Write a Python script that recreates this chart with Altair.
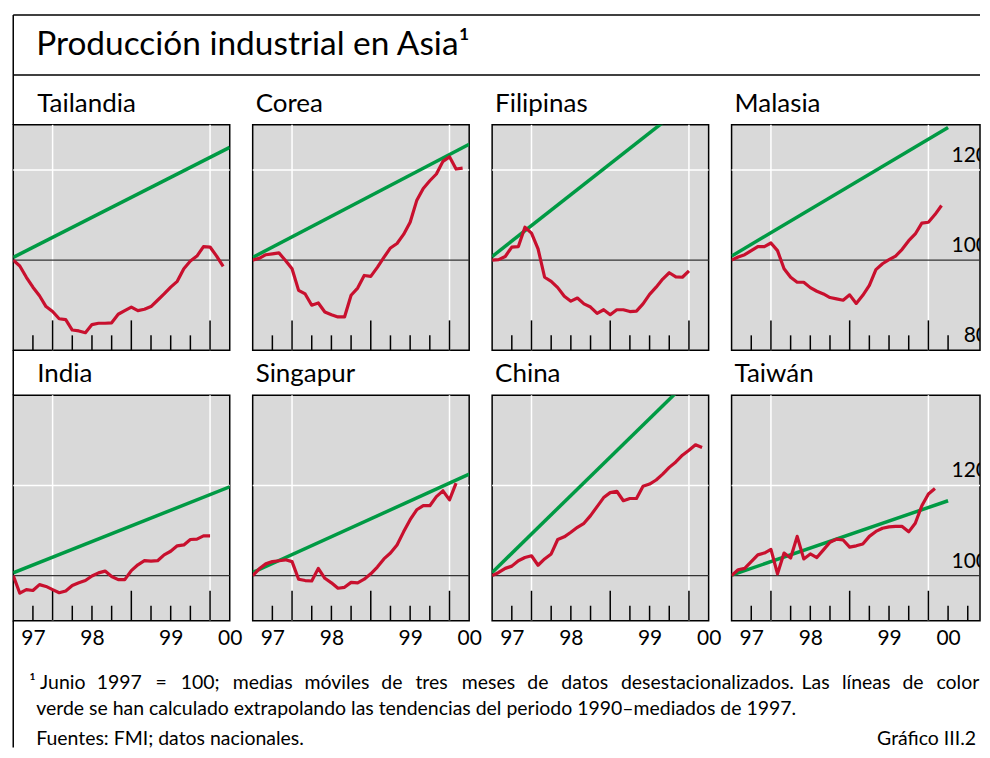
import altair as alt
import pandas as pd

FONT = "Lato"
TITLE = "Producción industrial en Asia¹"
FOOT1_WORDS = ["¹ Junio", "1997", "=", "100;", "medias", "móviles", "de", "tres", "meses", "de", "datos",
               "desestacionalizados.", "Las", "líneas", "de", "color"]
FOOT2 = "verde se han calculado extrapolando las tendencias del periodo 1990–mediados de 1997."
SOURCE = "Fuentes: FMI; datos nacionales."
CHART_ID = "Gráfico III.2"

names = ["Tailandia", "Corea", "Filipinas", "Malasia", "India", "Singapur", "China", "Taiwán"]

# monthly values, first point = June 1997 (=100)
tailandia = [100.0, 98.7, 96.2, 94.0, 92.1, 89.7, 88.6, 87.0, 86.8, 84.5, 84.3, 83.9, 85.7, 86.0, 86.0, 86.1,
             88.0, 88.8, 89.6, 88.8, 89.1, 89.7, 91.1, 92.5, 94.0, 95.3, 98.1, 99.8, 100.9, 103.0, 102.9, 100.9, 98.6]
corea = [100.0, 100.4, 101.2, 101.4, 101.6, 99.9, 98.1, 93.3, 92.5, 90.0, 90.5, 88.5, 87.9, 87.4, 87.4, 92.2,
         93.8, 96.6, 96.4, 98.4, 100.6, 102.7, 103.7, 105.7, 108.4, 113.2, 115.9, 117.6, 119.1, 121.9, 122.9, 120.2, 120.4]
filipinas = [100.0, 100.1, 100.8, 102.9, 103.0, 107.3, 106.0, 102.5, 96.2, 95.3, 93.9, 92.0, 90.9, 91.6, 90.3, 89.6,
             88.2, 89.0, 87.9, 89.0, 89.0, 88.6, 88.7, 90.3, 92.4, 94.0, 95.8, 97.2, 96.3, 96.2, 97.6]
malasia = [100.0, 100.7, 101.2, 102.1, 103.0, 103.0, 103.8, 102.1, 98.1, 96.2, 95.1, 95.1, 93.9, 93.1, 92.5, 91.7,
           91.4, 91.1, 92.3, 90.4, 92.2, 94.4, 97.9, 99.2, 100.1, 100.9, 102.4, 104.3, 105.8, 108.2, 108.4, 110.1, 112.1]
india = [100.0, 96.1, 96.9, 96.7, 98.0, 97.6, 96.9, 96.2, 96.6, 97.8, 98.4, 98.9, 99.9, 100.6, 101.0, 99.8,
         99.1, 99.1, 101.1, 102.4, 103.3, 103.2, 103.3, 104.6, 105.4, 106.6, 106.8, 108.0, 108.1, 108.8, 108.8]
singapur = [100.0, 101.5, 102.6, 103.1, 103.3, 103.5, 103.1, 99.2, 98.9, 98.8, 101.6, 99.4, 98.4, 97.2, 97.4, 98.5,
            98.4, 99.2, 100.4, 101.9, 103.7, 105.0, 106.8, 109.7, 112.4, 114.6, 115.5, 115.5, 117.5, 118.8, 116.8, 120.5]
china = [100.0, 100.7, 101.6, 102.1, 103.3, 104.0, 104.4, 102.3, 103.7, 104.8, 108.0, 108.6, 109.6, 110.7, 111.6, 113.3,
         115.3, 117.3, 118.4, 118.7, 116.6, 117.1, 117.1, 119.8, 120.3, 121.2, 122.5, 124.0, 125.2, 126.7, 127.8, 129.0, 128.4]
taiwan = [100.0, 101.3, 101.6, 103.1, 104.6, 105.0, 105.8, 100.4, 105.0, 103.9, 108.7, 103.7, 104.8, 104.0, 105.7, 107.4,
          108.1, 107.9, 106.3, 106.6, 107.0, 108.7, 109.8, 110.5, 110.8, 110.9, 110.9, 109.7, 111.6, 115.5, 118.1, 119.3]
red_series = [tailandia, corea, filipinas, malasia, india, singapur, china, taiwan]

# green trend lines: value at June 1997 and at the end of the trend line
green_start = [100.6, 100.6, 100.8, 100.9, 100.6, 100.7, 100.7, 100.1]
green_end = [125.0, 125.7, 138.5, 129.4, 119.7, 122.5, 147.6, 116.6]
GREEN_X = [1997.5, 2000.25]

long_ticks = [1998, 1999, 2000]
short_ticks = [1997.75, 1998.25, 1998.5, 1998.75, 1999.25, 1999.5, 1999.75, 2000.25, 2000.5, 2000.75]
vgrid = [1998, 2000]
hgrid = [80, 100, 120, 140]
label_pos = [1997.75, 1998.5, 1999.5, 2000.25]
ylabels_row = [[80, 100, 120], [100, 120]]

# layout constants (pixels)
X0 = 1997.5
W, W4, H = 217, 249, 226
PX_PER_YEAR = 217 / 2.75
YDOM = [[80, 130], [90, 140]]
FOOT_SIZE = 19.5

RED = "#c8102e"
GREEN = "#009a44"
BG = "#d9d9d9"

# approximate Lato advance widths (em) used to justify the first footnote line
_LW = {" ": 0.193, "a": 0.479, "b": 0.539, "c": 0.448, "d": 0.539, "e": 0.502, "f": 0.318, "g": 0.488,
       "h": 0.539, "i": 0.229, "í": 0.229, "j": 0.229, "k": 0.495, "l": 0.229, "m": 0.811, "n": 0.539,
       "o": 0.542, "ó": 0.542, "p": 0.536, "q": 0.539, "r": 0.376, "s": 0.424, "t": 0.372, "u": 0.539,
       "v": 0.5, "w": 0.757, "x": 0.483, "y": 0.5, "z": 0.447, ".": 0.21, ";": 0.23, "=": 0.58,
       "J": 0.37, "L": 0.46, "¹": 0.35}


def text_width(s, size):
    return sum(_LW.get(ch, 0.58) for ch in s) * size


def justify(words, x_start, x_end, size):
    widths = [text_width(wd, size) for wd in words]
    gap = (x_end - x_start - sum(widths)) / (len(words) - 1)
    xs, x = [], x_start
    for wdt in widths:
        xs.append(x)
        x += wdt + gap
    return xs


def one(**kw):
    return pd.DataFrame({k: [v] for k, v in kw.items()})


def txt(t, x, y, size, align="left"):
    return alt.Chart(one(t=t)).mark_text(align=align, baseline="alphabetic", fontSize=size, font=FONT,
                                         color="black").encode(x=alt.value(x), y=alt.value(y), text="t:N")


def vline(x, y1, y2):
    return alt.Chart(one(a=0)).mark_rule(color="black", strokeWidth=1.5).encode(
        x=alt.value(x), y=alt.value(y1), y2=alt.value(y2))


def hline(y, x1, x2):
    return alt.Chart(one(a=0)).mark_rule(color="black", strokeWidth=1.5).encode(
        x=alt.value(x1), x2=alt.value(x2), y=alt.value(y))


def panel(idx):
    name = names[idx]
    row, col = idx // 4, idx % 4
    w = W4 if col == 3 else W
    xmax = X0 + w / PX_PER_YEAR
    ydom = YDOM[row]
    xs = alt.Scale(domain=[X0, xmax], nice=False, zero=False)
    ys = alt.Scale(domain=ydom, nice=False, zero=False)
    if row == 1:
        xaxis = alt.Axis(values=label_pos,
                         labelExpr="datum.value < 1998 ? '97' : datum.value < 1999 ? '98' : datum.value < 2000 ? '99' : '00'",
                         ticks=False, tickSize=0, domain=False, grid=False, labelFont=FONT, labelFontSize=21,
                         labelColor="black", labelPadding=7, labelFlush=False, labelOverlap=False, title=None)
    else:
        xaxis = None

    def X(f):
        return alt.X(f, type="quantitative", scale=xs, axis=xaxis)

    def Y(f):
        return alt.Y(f, type="quantitative", scale=ys, axis=None)

    layers = []
    hg = [v for v in hgrid if ydom[0] < v < ydom[1] and v != 100]
    layers.append(alt.Chart(pd.DataFrame({"v": hg})).mark_rule(color="white", strokeWidth=1.5).encode(y=Y("v")))
    layers.append(alt.Chart(pd.DataFrame({"x": vgrid})).mark_rule(color="white", strokeWidth=1.5).encode(x=X("x")))
    layers.append(alt.Chart(pd.DataFrame({"v": [100]})).mark_rule(color="#333333", strokeWidth=1.3).encode(y=Y("v")))
    lt = [t for t in long_ticks if X0 < t < xmax - 0.01]
    stop = xmax - 0.01 if (row == 1 or col < 3) else 2000.3
    st = [t for t in short_ticks if X0 < t < stop]
    layers.append(alt.Chart(pd.DataFrame({"x": lt})).mark_rule(color="black", strokeWidth=1.5).encode(
        x=X("x"), y=alt.value(H), y2=alt.value(H - 30)))
    layers.append(alt.Chart(pd.DataFrame({"x": st})).mark_rule(color="black", strokeWidth=1.5).encode(
        x=X("x"), y=alt.value(H), y2=alt.value(H - 15)))
    gdf = pd.DataFrame({"x": GREEN_X, "v": [green_start[idx], green_end[idx]]})
    layers.append(alt.Chart(gdf).mark_line(color=GREEN, strokeWidth=3.5, clip=True).encode(x=X("x"), y=Y("v")))
    vals = red_series[idx]
    rdf = pd.DataFrame({"x": [X0 + i / 12 for i in range(len(vals))], "v": vals})
    layers.append(alt.Chart(rdf).mark_line(color=RED, strokeWidth=3.2, clip=True,
                                           strokeJoin="round").encode(x=X("x"), y=Y("v")))
    if col == 3:
        ldf = pd.DataFrame({"v": ylabels_row[row], "t": [str(v) for v in ylabels_row[row]]})
        layers.append(alt.Chart(ldf).mark_text(align="right", baseline="alphabetic", dy=-8, fontSize=21, font=FONT,
                                               color="black", clip=True).encode(
            x=alt.value(257), y=Y("v"), text="t:N"))
    # panel title
    layers.append(txt(name, 24 if col == 0 else 3, -13, 26))
    if idx == 0:
        full = 3 * (W + 23) + W4
        layers += [hline(-110, 0, full), hline(-50, 0, full), vline(0, -110, 0),
                   txt(TITLE, 23, -70, 33.5)]
    if idx == 4:
        layers += [vline(0, -45, 0), vline(0, H, 353)]
        for wd, xx in zip(FOOT1_WORDS, justify(FOOT1_WORDS, 16, 3 * (W + 23) + W4 - 2, FOOT_SIZE)):
            layers.append(txt(wd, xx, 294, FOOT_SIZE))
        layers += [txt(FOOT2, 23, 321, FOOT_SIZE), txt(SOURCE, 23, 351, FOOT_SIZE),
                   txt(CHART_ID, 3 * (W + 23) + W4 - 4, 351, FOOT_SIZE, "right")]
    return alt.layer(*layers).properties(width=w, height=H)


panels = [panel(i) for i in range(8)]
chart = alt.concat(*panels, columns=4, spacing=alt.RowColnumber(row=45, column=23), bounds="flush").properties(
    padding={"left": 3.25, "top": 4.25, "right": 0, "bottom": 0}
).configure(background="white").configure_view(fill=BG, stroke="black", strokeWidth=1.5)

chart.save("out.html", embed_options={"renderer": "svg", "actions": False})
